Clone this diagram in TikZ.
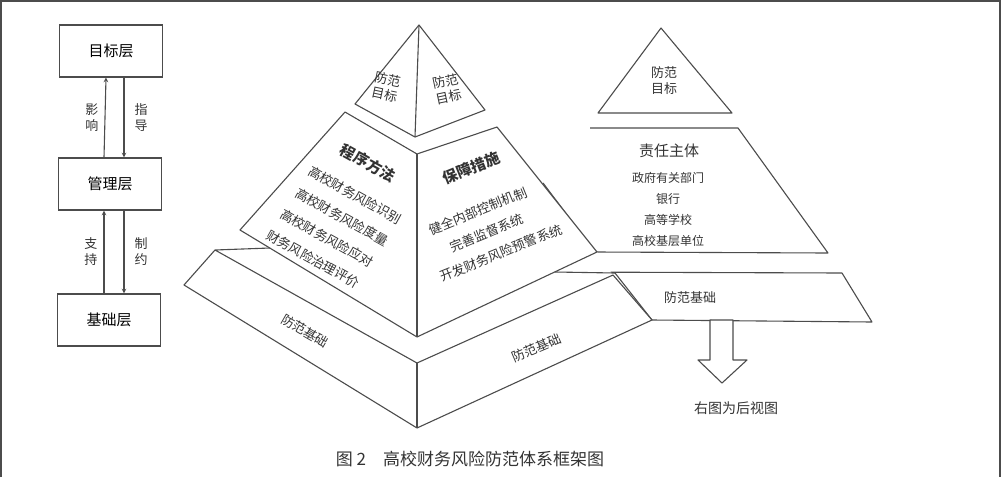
\documentclass[tikz,border=0pt]{standalone}
\usepackage{fontspec}
\newfontfamily\cjk{Noto Sans CJK SC}
\usepackage{tikz}
\usetikzlibrary{positioning}

\begin{document}
\begin{tikzpicture}[x=1pt,y=-1pt,
    line width=1.1pt, draw=black!70,
    face/.style={draw=black!70, fill=white, line join=round},
    layer/.style={draw=black!70, minimum width=103pt, minimum height=52pt, font=\cjk\fontsize{15}{15}\selectfont},
    txt/.style={font=\cjk\fontsize{13}{16}\selectfont, text=black!80, align=center, inner sep=0pt},
    big/.style={font=\cjk\bfseries\fontsize{15}{18}\selectfont, text=black!80, inner sep=0pt}]
            \useasboundingbox (0,0) rectangle (1002,477);
            % Frame
            \draw (1,477) -- (1,1) -- (1000,1) -- (1000,477);

            % Left layers
            \node[layer] (goal) at (111,51) {目标层};
            \node[layer] (mgmt) at (110,184) {管理层};
            \node[layer] (base) at (109,320) {基础层};
            \draw[->, >=stealth] ([xshift=-6pt]mgmt.north) -- ([xshift=-5pt]goal.south) node[txt, midway, left=6pt] {影\\响};
            \draw[->, >=stealth] ([xshift=13pt]goal.south) -- ([xshift=14pt]mgmt.north) node[txt, midway, right=10pt] {指\\导};
            \draw[->, >=stealth] ([xshift=-5pt]base.north) -- ([xshift=-6pt]mgmt.south) node[txt, midway, left=6pt] {支\\持};
            \draw[->, >=stealth] ([xshift=14pt]mgmt.south) -- ([xshift=15pt]base.north) node[txt, midway, right=10pt] {制\\约};

            % Rear view
            \draw[face] (661,28) -- (732,113) -- (598,113) -- cycle;
            \node[txt] (rgoal) at (664,81) {防范\\目标};
            \draw[face] (590,128) -- (738,128) -- (828,253) -- (595,252) -- (543,183);
            \node[big, font=\cjk\fontsize{15}{18}\selectfont] (rsubj) at (669,151) {责任主体};
            \node[txt, font=\cjk\fontsize{12}{21}\selectfont] (rlist) at (668,209) {政府有关部门\\银行\\高等学校\\高校基层单位};
            \draw[face] (555,272) -- (842,273) -- (872,322) -- (652,320) -- (615,273);
            \node[txt] (rbase) at (690,298) {防范基础};

            % Front pyramid: slab
            \fill[white] (215,250) -- (240,230) -- (597,252) -- (613,275) -- (652,320) -- (417,428) -- (184,285) -- cycle;
            \draw[line join=round] (270,248) -- (215,250) -- (184,285) -- (417,428) -- (652,320) -- (613,275) -- (417,363) -- (215,250);
            \draw (417,363) -- (417,428);
            \draw (555,272) -- (615,273);
            \node[txt, rotate=-30] (lbase) at (305,331) {防范基础};
            \node[txt, rotate=23] (fbase) at (537,348) {防范基础};

            % Front pyramid: middle
            \draw[face] (345,112) -- (417,154) -- (497,127) -- (597,252) -- (417,337) -- (240,230) -- cycle;
            \draw (417,154) -- (417,337);
            \node[big, rotate=-29] (proc) at (368,163) {程序方法};
            \node[txt, rotate=-29] (p1) at (355,195) {高校财务风险识别};
            \node[txt, rotate=-29] (p2) at (342,217) {高校财务风险度量};
            \node[txt, rotate=-29] (p3) at (327,238) {高校财务风险应对};
            \node[txt, rotate=-29] (p4) at (313,259) {财务风险治理评价};
            \node[big, rotate=22] (safe) at (471,168) {保障措施};
            \node[txt, rotate=22] (s1) at (478,211) {健全内部控制机制};
            \node[txt, rotate=22] (s2) at (487,233) {完善监督系统};
            \node[txt, rotate=22] (s3) at (501,253) {开发财务风险预警系统};

            % Front pyramid: top
            \draw[face] (419,25) -- (485,110) -- (415,137) -- (355,104) -- cycle;
            \draw (419,25) -- (415,137);
            \node[txt, rotate=-12] (tl) at (386,87) {防范\\目标};
            \node[txt, rotate=12] (tr) at (447,89) {防范\\目标};

            % Arrow
            \draw[face] (710,320) -- (733,320) -- (733,360) -- (747,360) -- (722,383)
                -- (698,360) -- (710,360) -- cycle;
            \node[txt, font=\cjk\fontsize{14}{16}\selectfont] (note) at (736,408) {右图为后视图};

            % Caption
            \node[txt, font=\cjk\fontsize{17}{18}\selectfont] (cap) at (470,459) {图 2\quad 高校财务风险防范体系框架图};
        \end{tikzpicture}
\end{document}
